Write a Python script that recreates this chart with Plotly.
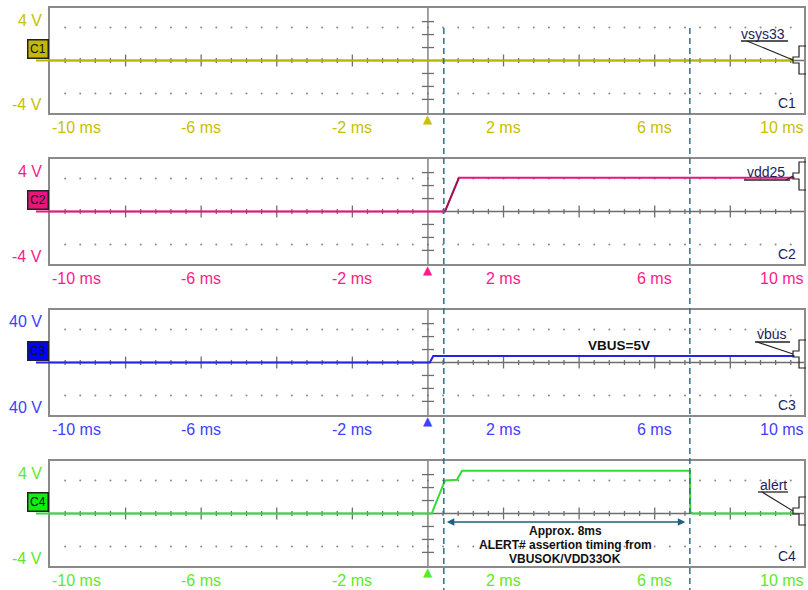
import numpy as np
import plotly.graph_objects as go

W, H = 808, 590

# ---------------- data ----------------
CHANNELS = ["C1", "C2", "C3", "C4"]
NET_NAMES = ["vsys33", "vdd25", "vbus", "alert"]
C1_TIME_MS = [-10, 9.7]
C1_VOLTS = [0, 0]
C2_TIME_MS = [-10, 0.45, 0.82, 9.7]
C2_VOLTS = [0, 0, 2.6, 2.6]
C3_TIME_MS = [-10, 0.05, 0.14, 9.7]
C3_VOLTS = [0, 0, 5, 5]
C4_TIME_MS = [-10, 0.1, 0.45, 0.77, 0.9, 6.93, 6.94, 7.0, 9.7]
C4_VOLTS = [0, 0, 2.55, 2.6, 3.3, 3.3, 0.15, 0, 0]
CURSOR_MS = [0.42, 6.93]
TICK_MS = [-10, -6, -2, 2, 6, 10]
TICK_LABELS = ["-10 ms", "-6 ms", "-2 ms", "2 ms", "6 ms", "10 ms"]
VOLT_TOP_LABELS = ["4 V", "4 V", "40 V", "4 V"]
VOLT_BOTTOM_LABELS = ["-4 V", "-4 V", "40 V", "-4 V"]
VOLTS_PER_DIV = [1, 1, 10, 1]
ARROW_LEVEL_V = -0.66

SERIES = [(C1_TIME_MS, C1_VOLTS), (C2_TIME_MS, C2_VOLTS),
          (C3_TIME_MS, C3_VOLTS), (C4_TIME_MS, C4_VOLTS)]

# ---------------- style ----------------
TRACE_COL = ["#bdb400", "#e8157d", "#2424e6", "#33dd33"]
LABEL_COL = ["#c8c000", "#ff1a8c", "#4040ff", "#5ee82a"]
BADGE_COL = ["#c2b800", "#e8157d", "#0000ff", "#11ee11"]
NAVY = "#1c1c5a"
AXIS_GRAY = "#6e6e6e"
BORDER_GRAY = "#8a8a8a"
CURSOR_COL = "#2e6f8e"
FONT = "Arial, Liberation Sans, sans-serif"

PLOT_L, PLOT_R = 50, 804
PANEL_TOPS = [8, 159, 310, 461]
PANEL_H = 105
X_RANGE = [-10, 9.95]

def px(x):
    return x / W

def py(y):
    return 1 - y / H

fig = go.Figure()
shapes = []
annotations = []

# right-side net label geometry (pixel): text x, text y, underline x0,x1,y, leader start, bracket center
NET_GEOM = [
    (763, 34, 741, 788, 41, 747, 60),
    (766, 172, 744, 790, 180, 786, 176),
    (772, 334, 755, 790, 342, 757, 354),
    (773, 485, 758, 788, 492, 762, 511),
]

for i in range(4):
    k = i + 1
    xa = "x" if k == 1 else f"x{k}"
    ya = "y" if k == 1 else f"y{k}"
    top = PANEL_TOPS[i]
    bot = top + PANEL_H
    s = VOLTS_PER_DIV[i]
    yr = 4.05 * s
    xkey = "xaxis" if k == 1 else f"xaxis{k}"
    ykey = "yaxis" if k == 1 else f"yaxis{k}"
    fig.layout[xkey] = dict(domain=[px(PLOT_L), px(PLOT_R)], range=X_RANGE, anchor=ya,
                            showgrid=False, zeroline=False, showticklabels=False, ticks="",
                            showline=True, mirror=True, linecolor=BORDER_GRAY, linewidth=2,
                            fixedrange=True)
    fig.layout[ykey] = dict(domain=[py(bot), py(top)], range=[-yr, yr], anchor=xa,
                            showgrid=False, zeroline=False, showticklabels=False, ticks="",
                            showline=True, mirror=True, linecolor=BORDER_GRAY, linewidth=2,
                            fixedrange=True)

    # dotted grid rows
    gx = np.arange(-9.6, 9.61, 0.4)
    for gy in (2.55 * s, -2.55 * s):
        fig.add_trace(go.Scatter(x=gx, y=[gy] * len(gx), mode="markers",
                                 marker=dict(size=2, color="#8a8a8a"),
                                 xaxis=xa, yaxis=ya, hoverinfo="skip", showlegend=False))

    # center cross with ticks
    tx, ty = [X_RANGE[0], X_RANGE[1], None], [0, 0, None]
    for t in np.arange(-9.6, 9.61, 0.4):
        t = round(t, 2)
        if abs(t) < 1e-6:
            continue
        major = abs(t / 2 - round(t / 2)) < 1e-6
        h = (0.46 if major else 0.2) * s
        tx += [t, t, None]
        ty += [-h, h, None]
    tx += [0, 0, None]
    ty += [-yr, yr, None]
    for v in (-3, -2, -1, 1, 2, 3):
        tx += [-0.16, 0.16, None]
        ty += [v * s, v * s, None]
    fig.add_trace(go.Scatter(x=tx, y=ty, mode="lines", line=dict(color=AXIS_GRAY, width=1.3),
                             xaxis=xa, yaxis=ya, hoverinfo="skip", showlegend=False))

    # signal trace
    t_ms, volts = SERIES[i]
    fig.add_trace(go.Scatter(x=t_ms, y=volts, mode="lines",
                             line=dict(color=TRACE_COL[i], width=2),
                             xaxis=xa, yaxis=ya, showlegend=False, hoverinfo="skip"))
    if i == 1:
        fig.add_trace(go.Scatter(x=t_ms[1:3], y=volts[1:3], mode="lines",
                                 line=dict(color="#8a1c4c", width=1.6),
                                 xaxis=xa, yaxis=ya, showlegend=False, hoverinfo="skip"))

    zero_px = top + PANEL_H / 2

    # x tick labels
    for tv, tl in zip(TICK_MS, TICK_LABELS):
        if tv == TICK_MS[-1]:
            annotations.append(dict(x=px(806), xref="paper", y=py(bot + 14), yref="paper",
                                    text=tl, showarrow=False, xanchor="right", yanchor="middle",
                                    font=dict(family=FONT, size=16, color=LABEL_COL[i])))
            continue
        anchor = "left" if tv == TICK_MS[0] else "center"
        annotations.append(dict(x=tv, xref=xa, y=py(bot + 14), yref="paper", text=tl,
                                showarrow=False, xanchor=anchor, yanchor="middle",
                                font=dict(family=FONT, size=16, color=LABEL_COL[i])))
    # volt labels
    annotations.append(dict(x=px(44), xref="paper", y=py(top + 12), yref="paper",
                            text=VOLT_TOP_LABELS[i], showarrow=False, xanchor="right",
                            yanchor="middle", font=dict(family=FONT, size=16, color=LABEL_COL[i])))
    annotations.append(dict(x=px(44), xref="paper", y=py(top + 97), yref="paper",
                            text=VOLT_BOTTOM_LABELS[i], showarrow=False, xanchor="right",
                            yanchor="middle", font=dict(family=FONT, size=16, color=LABEL_COL[i])))
    # channel badge
    annotations.append(dict(x=px(49), xref="paper", y=py(zero_px - 2), yref="paper",
                            text=CHANNELS[i], showarrow=False, xanchor="right", yanchor="bottom",
                            bgcolor=BADGE_COL[i], bordercolor="#222222", borderwidth=1.5,
                            borderpad=1.5, font=dict(family=FONT, size=12, color="#111111")))
    shapes.append(dict(type="line", xref="paper", yref="paper", x0=px(36), x1=px(50),
                       y0=py(zero_px), y1=py(zero_px), line=dict(color=TRACE_COL[i], width=2)))
    # bottom right channel label
    annotations.append(dict(x=px(798), xref="paper", y=py(bot - 10), yref="paper",
                            text=CHANNELS[i], showarrow=False, xanchor="right", yanchor="middle",
                            font=dict(family=FONT, size=14, color=NAVY)))
    # trigger marker
    annotations.append(dict(x=0, xref=xa, y=py(bot + 6), yref="paper", text="▲",
                            showarrow=False, xanchor="center", yanchor="middle",
                            font=dict(family="DejaVu Sans", size=12, color=LABEL_COL[i])))

    # net name label with leader and bracket
    tx_, ty_, ux0, ux1, uy, lx, bc = NET_GEOM[i]
    annotations.append(dict(x=px(tx_), xref="paper", y=py(ty_), yref="paper",
                            text=NET_NAMES[i], showarrow=False, xanchor="center", yanchor="middle",
                            font=dict(family=FONT, size=14, color=NAVY)))
    shapes.append(dict(type="line", xref="paper", yref="paper", x0=px(ux0), x1=px(ux1),
                       y0=py(uy), y1=py(uy), line=dict(color="#222222", width=1.3)))
    shapes.append(dict(type="line", xref="paper", yref="paper", x0=px(lx), x1=px(793),
                       y0=py(uy), y1=py(bc), line=dict(color="#222222", width=1.1)))
    pts = [(806, bc - 14), (799, bc - 14), (799, bc - 3), (793, bc - 3),
           (793, bc + 3), (799, bc + 3), (799, bc + 14), (806, bc + 14)]
    path = "M " + " L ".join(f"{px(a):.5f},{py(b):.5f}" for a, b in pts)
    shapes.append(dict(type="path", xref="paper", yref="paper", path=path,
                       line=dict(color="#222222", width=1.2)))

# cursors (dashed vertical)
for c in CURSOR_MS:
    shapes.append(dict(type="line", xref="x4", yref="paper", x0=c, x1=c,
                       y0=py(28), y1=py(590), line=dict(color=CURSOR_COL, width=1.5, dash="6px,4px")))

# double arrow between cursors
annotations.append(dict(x=CURSOR_MS[1] - 0.12, y=ARROW_LEVEL_V, xref="x4", yref="y4",
                        ax=CURSOR_MS[0] + 0.04, ay=ARROW_LEVEL_V, axref="x4", ayref="y4",
                        text="", showarrow=True, arrowhead=2, arrowside="end+start",
                        arrowsize=1, arrowwidth=1.5, arrowcolor="#1f5f7f"))
NOTE_LINES = ["Approx. 8ms", "ALERT# assertion timing from", "VBUSOK/VDD33OK"]
for j, (line, yy) in enumerate(zip(NOTE_LINES, [531, 545, 559])):
    annotations.append(dict(x=3.63, xref="x4", y=py(yy), yref="paper", text=f"<b>{line}</b>",
                            showarrow=False, xanchor="center", yanchor="middle",
                            font=dict(family=FONT, size=12, color="#111111")))
annotations.append(dict(x=5.05, xref="x3", y=py(345), yref="paper", text="<b>VBUS=5V</b>",
                        showarrow=False, xanchor="center", yanchor="middle",
                        font=dict(family=FONT, size=13.5, color="#111111")))

fig.update_layout(width=W, height=H, margin=dict(l=0, r=0, t=0, b=0),
                  paper_bgcolor="white", plot_bgcolor="white",
                  shapes=shapes, annotations=annotations, showlegend=False)

fig.write_html("out.html", config={"displayModeBar": False},
               post_script="document.body.style.margin='0';document.body.style.padding='0';"
                           "document.body.style.overflow='hidden';")
